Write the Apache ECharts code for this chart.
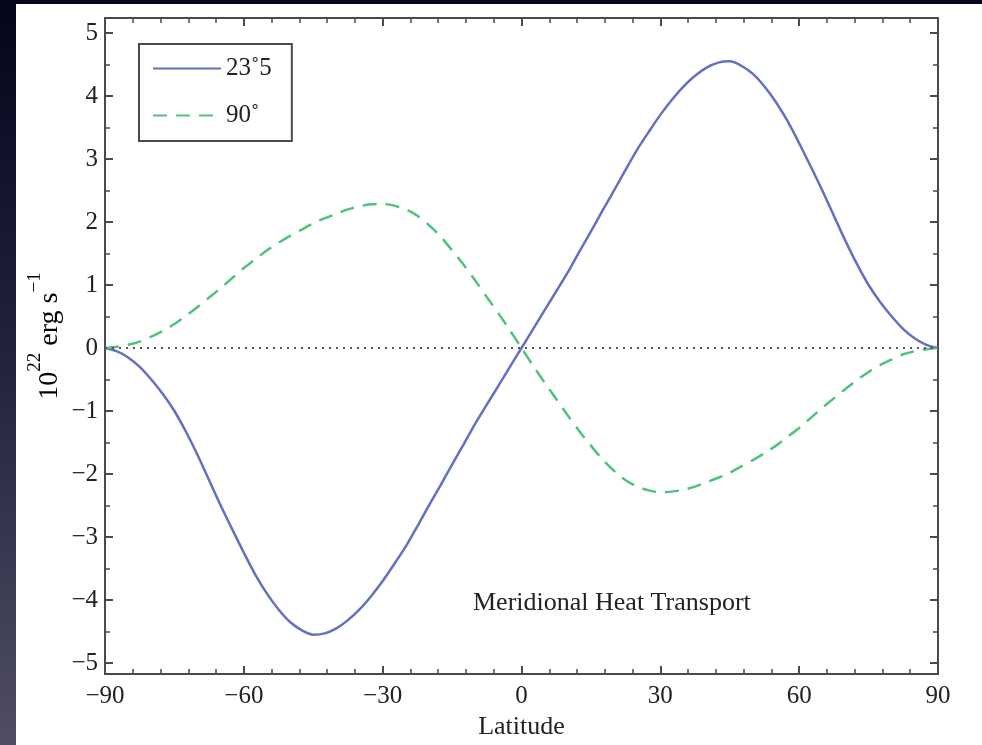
<!DOCTYPE html>
<html>
<head>
<meta charset="utf-8">
<script src="https://cdn.jsdelivr.net/npm/echarts@6/dist/echarts.min.js"></script>
<style>
html,body{margin:0;padding:0;background:#000;}
#chart{width:982px;height:745px;}
</style>
</head>
<body>
<div id="chart"></div>
<script>
// Latitude (degrees), 2.5 deg steps
const latitudes = [-90,-87.5,-85,-82.5,-80,-77.5,-75,-72.5,-70,-67.5,-65,-62.5,-60,-57.5,-55,-52.5,-50,-47.5,-45,-42.5,-40,-37.5,-35,-32.5,-30,-27.5,-25,-22.5,-20,-17.5,-15,-12.5,-10,-7.5,-5,-2.5,0,
                   2.5,5,7.5,10,12.5,15,17.5,20,22.5,25,27.5,30,32.5,35,37.5,40,42.5,45,47.5,50,52.5,55,57.5,60,62.5,65,67.5,70,72.5,75,77.5,80,82.5,85,87.5,90];
// Obliquity 23.5 deg (10^22 erg/s)
const obl235 = [0,-0.05,-0.15,-0.3,-0.5,-0.73,-1.0,-1.33,-1.7,-2.1,-2.5,-2.88,-3.25,-3.6,-3.9,-4.15,-4.35,-4.48,-4.55,-4.53,-4.45,-4.32,-4.15,-3.94,-3.7,-3.43,-3.15,-2.83,-2.5,-2.18,-1.85,-1.53,-1.2,-0.9,-0.6,-0.3,0,
                0.3,0.6,0.9,1.2,1.53,1.85,2.18,2.5,2.83,3.15,3.43,3.7,3.94,4.15,4.32,4.45,4.53,4.55,4.48,4.35,4.15,3.9,3.6,3.25,2.88,2.5,2.1,1.7,1.33,1.0,0.73,0.5,0.3,0.15,0.05,0];
// Obliquity 90 deg (10^22 erg/s)
const obl90 = [0,0.02,0.05,0.1,0.18,0.27,0.38,0.51,0.65,0.8,0.95,1.11,1.27,1.41,1.55,1.67,1.78,1.88,1.98,2.06,2.13,2.2,2.25,2.28,2.29,2.26,2.2,2.1,1.95,1.77,1.55,1.32,1.07,0.81,0.55,0.28,0,
               -0.28,-0.55,-0.81,-1.07,-1.32,-1.55,-1.77,-1.95,-2.1,-2.2,-2.26,-2.29,-2.28,-2.25,-2.2,-2.13,-2.06,-1.98,-1.88,-1.78,-1.67,-1.55,-1.41,-1.27,-1.11,-0.95,-0.8,-0.65,-0.51,-0.38,-0.27,-0.18,-0.1,-0.05,-0.02,0];
const seriesNames = ['23\u02DA5', '90\u02DA'];
const yMajorTicks = [-5,-4,-3,-2,-1,0,1,2,3,4,5];
const yMinorTicks = [-4.5,-3.5,-2.5,-1.5,-0.5,0.5,1.5,2.5,3.5,4.5];

const FONT = '"Liberation Serif", "Times New Roman", serif';
const AX = '#4a4a4a';
const minus = v => String(v).replace('-', '\u2212');

const chart = echarts.init(document.getElementById('chart'), null, {renderer: 'canvas'});

const xCommon = {
  type: 'value', min: -90, max: 90, interval: 30,
  axisLine: {show: true, onZero: false, lineStyle: {color: AX, width: 2}},
  axisTick: {show: true, inside: true, length: 8, lineStyle: {color: AX, width: 2}},
  minorTick: {show: true, splitNumber: 5, length: 5, lineStyle: {color: AX, width: 1.5}},
  splitLine: {show: false}
};
const yRange = {type: 'value', min: -5.175, max: 5.238, splitLine: {show: false}};

chart.setOption({
  backgroundColor: {
    type: 'linear', x: 0, y: 0, x2: 0, y2: 1,
    colorStops: [{offset: 0, color: '#04041a'}, {offset: 0.5, color: '#24243f'}, {offset: 1, color: '#4f4e63'}]
  },
  animation: false,
  grid: {left: 105, right: 44, top: 18, bottom: 71},
  legend: {
    left: 139, top: 44, orient: 'vertical',
    itemWidth: 68, itemHeight: 20, itemGap: 22,
    padding: [12, 20, 13, 13],
    borderColor: AX, borderWidth: 2, backgroundColor: '#fff',
    itemStyle: {opacity: 0},
    textStyle: {fontFamily: FONT, fontSize: 25, color: '#222'},
    data: seriesNames
  },
  xAxis: [
    Object.assign({}, xCommon, {
      position: 'bottom',
      name: 'Latitude', nameLocation: 'middle', nameGap: 34,
      nameTextStyle: {fontFamily: FONT, fontSize: 26, color: '#222'},
      axisLabel: {show: true, margin: 10, fontFamily: FONT, fontSize: 25, color: '#222', formatter: minus}
    }),
    Object.assign({}, xCommon, {position: 'top', axisLabel: {show: false}})
  ],
  yAxis: [
    Object.assign({}, yRange, {
      position: 'left',
      axisLine: {show: true, onZero: false, lineStyle: {color: AX, width: 2}},
      axisTick: {show: true, inside: true, length: 8, customValues: yMajorTicks, lineStyle: {color: AX, width: 2}},
      axisLabel: {show: true, margin: 7, customValues: yMajorTicks, fontFamily: FONT, fontSize: 25, color: '#222', formatter: minus}
    }),
    Object.assign({}, yRange, {
      position: 'left',
      axisLine: {show: false, onZero: false},
      axisTick: {show: true, inside: true, length: 5, customValues: yMinorTicks, lineStyle: {color: AX, width: 1.5}},
      axisLabel: {show: false}
    }),
    Object.assign({}, yRange, {
      position: 'right',
      axisLine: {show: true, onZero: false, lineStyle: {color: AX, width: 2}},
      axisTick: {show: true, inside: true, length: 8, customValues: yMajorTicks, lineStyle: {color: AX, width: 2}},
      axisLabel: {show: false}
    }),
    Object.assign({}, yRange, {
      position: 'right',
      axisLine: {show: false, onZero: false},
      axisTick: {show: true, inside: true, length: 5, customValues: yMinorTicks, lineStyle: {color: AX, width: 1.5}},
      axisLabel: {show: false}
    })
  ],
  graphic: [
    {type: 'rect', z: -100, silent: true, shape: {x: 16, y: 4, width: 966, height: 741}, style: {fill: '#ffffff'}},
    {type: 'text', x: 45, y: 336, rotation: Math.PI / 2, silent: true,
      style: {
        text: '{m|10}{s|22}{m| erg s}{s|\u22121}',
        align: 'center', verticalAlign: 'middle',
        rich: {
          m: {fontFamily: FONT, fontSize: 28, color: '#222', lineHeight: 38, verticalAlign: 'bottom'},
          s: {fontFamily: FONT, fontSize: 19, color: '#222', lineHeight: 38, verticalAlign: 'top'}
        }
      }
    },
    {type: 'text', left: 473, top: 590, silent: true,
      style: {text: 'Meridional Heat Transport', fontFamily: FONT, fontSize: 26, fill: '#222'}}
  ],
  series: [
    {
      name: seriesNames[0], type: 'line', xAxisIndex: 0, yAxisIndex: 0,
      data: latitudes.map((x, i) => [x, obl235[i]]),
      symbol: 'none', smooth: 0.3, z: 3,
      lineStyle: {color: '#6570c0', width: 2.5}, itemStyle: {color: '#6570c0'},
      markLine: {
        silent: true, symbol: ['none', 'none'], label: {show: false},
        lineStyle: {color: '#555', width: 2, type: [2, 5]},
        data: [{yAxis: 0}]
      }
    },
    {
      name: seriesNames[1], type: 'line', xAxisIndex: 0, yAxisIndex: 0,
      data: latitudes.map((x, i) => [x, obl90[i]]),
      symbol: 'none', smooth: 0.3, z: 3,
      lineStyle: {color: '#4fc27d', width: 2.5, type: [14, 9]}, itemStyle: {color: '#4fc27d'}
    }
  ]
});
</script>
</body>
</html>
